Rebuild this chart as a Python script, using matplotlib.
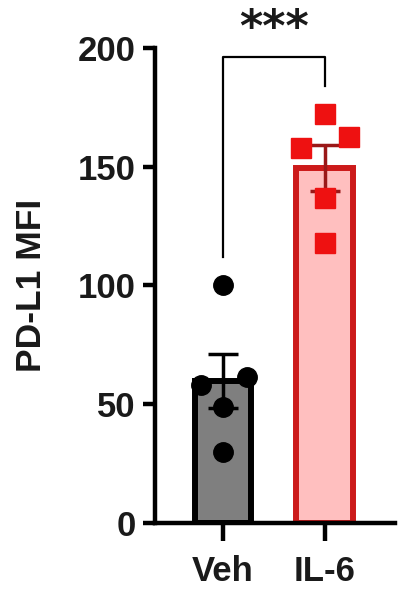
import numpy as np
import matplotlib
matplotlib.use("Agg")
import matplotlib.pyplot as plt

plt.rcParams['font.family'] = ['Liberation Sans', 'DejaVu Sans']
plt.rcParams['font.weight'] = 'bold'

categories = ["Veh", "IL-6"]
veh_points = [100, 58, 61.5, 49, 30]
il6_points = [172, 158, 162.5, 137, 118]
# jitter offsets (in category units)
veh_x_offsets = [0.0, -0.22, 0.24, 0.0, 0.0]
il6_x_offsets = [0.0, -0.23, 0.24, 0.0, 0.0]
yticks = [0, 50, 100, 150, 200]
ylabel = "PD-L1 MFI"
sig_label = "***"

groups = [veh_points, il6_points]
means = [np.mean(g) for g in groups]
sems = [np.std(g, ddof=1) / np.sqrt(len(g)) for g in groups]

fig = plt.figure(figsize=(4.14, 5.91), dpi=100)
ax = fig.add_axes([0.374, 0.115, 0.58, 0.804])

x = np.arange(len(categories))
fills = ["#7f7f7f", "#ffbfbf"]
edges = ["#000000", "#cc1a1a"]
errc = ["#000000", "#9a1818"]
ax.bar(x, means, width=0.56, color=fills, edgecolor=edges, linewidth=4.3, zorder=2)
for i in range(2):
    ax.errorbar(x[i], means[i], yerr=sems[i], color=errc[i], capsize=11,
                capthick=2.5, elinewidth=2.5, zorder=3, fmt='none')
ax.plot(x[0] + np.array(veh_x_offsets), veh_points, 'o', color='black',
        markersize=14, zorder=4, linestyle='none')
ax.plot(x[1] + np.array(il6_x_offsets), il6_points, 's', color='#ee1111',
        markersize=14, zorder=4, linestyle='none')

# significance bracket
ax.plot([0, 0, 1, 1], [112, 196, 196, 184], color='black', lw=1.6,
        clip_on=False, zorder=1)
ax.text(0.5, 217, sig_label, ha='center', va='top', fontsize=32,
        fontweight='bold', color='#1a1a1a', family='DejaVu Sans')

ax.set_xlim(-0.67, 1.69)
ax.set_ylim(0, 200)
ax.set_yticks(yticks)
ax.set_xticks(x)
ax.set_xticklabels(categories)
ax.set_ylabel(ylabel, fontsize=25.5, fontweight='bold', labelpad=21)
ax.yaxis.label.set_color('#1a1a1a')
for s in ['top', 'right']:
    ax.spines[s].set_visible(False)
for s in ['left', 'bottom']:
    ax.spines[s].set_linewidth(3.2)
ax.tick_params(axis='y', length=9, width=3.2, labelsize=25, pad=5)
ax.tick_params(axis='x', length=13, width=3.2, labelsize=25, pad=10)
for lab in ax.get_xticklabels() + ax.get_yticklabels():
    lab.set_fontweight('bold')
    lab.set_color('#1a1a1a')

fig.savefig("out.png", dpi=100)
